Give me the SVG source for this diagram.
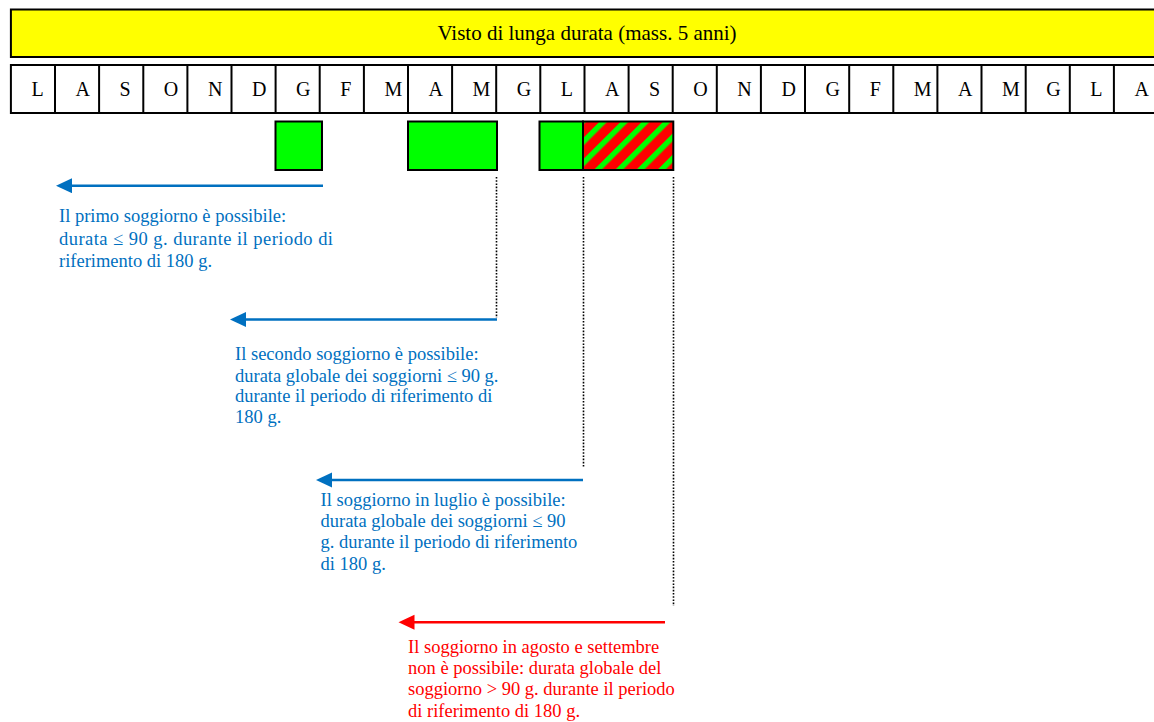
<svg xmlns="http://www.w3.org/2000/svg" width="1154" height="722" viewBox="0 0 1154 722">
<style>
.bx{stroke:#000;stroke-width:2}
.cell{fill:#fff;stroke:#000;stroke-width:2}
.mon{font-family:"Liberation Serif","Times New Roman",serif;font-size:20px;fill:#000}
.ban{font-family:"Liberation Serif","Times New Roman",serif;font-size:21px;fill:#000}
.txt{font-family:"Liberation Serif","Times New Roman",serif;font-size:18.5px}
.blue{fill:#0070C0}
.red{fill:#FF0000}
.dot{stroke:#000;stroke-width:1.6;stroke-dasharray:1.6 1.6;fill:none}
.arB{stroke:#0070C0;stroke-width:2.6;fill:none;marker-end:url(#hB)}
.arR{stroke:#FF0000;stroke-width:2.6;fill:none;marker-end:url(#hR)}
</style>
<defs>
<marker id="hB" markerUnits="userSpaceOnUse" markerWidth="18" markerHeight="16" refX="6" refY="7.5" orient="auto" viewBox="0 0 18 16">
<path d="M0,0 L16,7.5 L0,15 Z" fill="#0070C0"/>
</marker>
<marker id="hR" markerUnits="userSpaceOnUse" markerWidth="18" markerHeight="16" refX="6" refY="7.5" orient="auto" viewBox="0 0 18 16">
<path d="M0,0 L16,7.5 L0,15 Z" fill="#FF0000"/>
</marker>
<pattern id="hatch" patternUnits="userSpaceOnUse" width="15" height="15" patternTransform="rotate(45)">
<rect x="0" y="0" width="15" height="15" fill="#FF0000"/>
<rect x="0" y="0" width="5.5" height="15" fill="#00FF00"/>
</pattern>
</defs>
<rect width="1154" height="722" fill="#fff"/>
<g id="banner">
<rect x="10.9" y="9.5" width="1160" height="47.5" fill="#FFFF00" class="bx"/>
<text x="587" y="40" class="ban" text-anchor="middle">Visto di lunga durata (mass. 5 anni)</text>
</g>
<g id="months">
<rect x="10.9" y="65" width="1147.1" height="48" class="cell"/>
<path d="M55,65V113M99.1,65V113M143.3,65V113M187.4,65V113M231.5,65V113M275.6,65V113M319.7,65V113M363.9,65V113M408,65V113M452.1,65V113M496.2,65V113M540.3,65V113M584.5,65V113M628.6,65V113M672.7,65V113M716.8,65V113M760.9,65V113M805,65V113M849.2,65V113M893.3,65V113M937.4,65V113M981.5,65V113M1025.7,65V113M1069.8,65V113M1113.9,65V113" stroke="#000" stroke-width="2"/>
<text class="mon" y="95.5"><tspan x="31.4">L</tspan><tspan x="75.5">A</tspan><tspan x="119.6">S</tspan><tspan x="163.8">O</tspan><tspan x="207.9">N</tspan><tspan x="252">D</tspan><tspan x="296.1">G</tspan><tspan x="340.2">F</tspan><tspan x="384.4">M</tspan><tspan x="428.5">A</tspan><tspan x="472.6">M</tspan><tspan x="516.7">G</tspan><tspan x="560.8">L</tspan><tspan x="605">A</tspan><tspan x="649.1">S</tspan><tspan x="693.2">O</tspan><tspan x="737.3">N</tspan><tspan x="781.4">D</tspan><tspan x="825.5">G</tspan><tspan x="869.7">F</tspan><tspan x="913.8">M</tspan><tspan x="957.9">A</tspan><tspan x="1002">M</tspan><tspan x="1046.2">G</tspan><tspan x="1090.3">L</tspan><tspan x="1134.4">A</tspan></text>
</g>
<g id="stay1"><rect x="275.5" y="121.5" width="46.5" height="48.5" fill="#00FF00" class="bx"/></g>
<g id="stay2"><rect x="408" y="121.5" width="89" height="48.5" fill="#00FF00" class="bx"/></g>
<g id="stay3"><rect x="539.5" y="121.5" width="43.5" height="48.5" fill="#00FF00" class="bx"/></g>
<g id="stay4"><rect x="583" y="121.5" width="90.3" height="48.5" fill="url(#hatch)" class="bx"/></g>
<g id="connectors">
<path class="dot" d="M496.5,177V318"/>
<path class="dot" d="M583.5,177V468"/>
<path class="dot" d="M673.5,177V606"/>
<path class="arB" d="M323,185.7H66"/>
<path class="arB" d="M497,319.5H240"/>
<path class="arB" d="M583,480H326"/>
<path class="arR" d="M665,622.3H408.5"/>
</g>
<g id="note1" class="txt blue">
<text x="59" y="221.7">Il primo soggiorno è possibile:</text>
<text x="59" y="244.5" textLength="274" lengthAdjust="spacing">durata ≤ 90 g. durante il periodo di</text>
<text x="59" y="266.7">riferimento di 180 g.</text>
</g>
<g id="note2" class="txt blue">
<text x="235" y="360">Il secondo soggiorno è possibile:</text>
<text x="235" y="381.5">durata globale dei soggiorni ≤ 90 g.</text>
<text x="235" y="402">durante il periodo di riferimento di</text>
<text x="235" y="422.7">180 g.</text>
</g>
<g id="note3" class="txt blue">
<text x="320.5" y="506">Il soggiorno in luglio è possibile:</text>
<text x="320.5" y="527">durata globale dei soggiorni ≤ 90</text>
<text x="320.5" y="548.3">g. durante il periodo di riferimento</text>
<text x="320.5" y="569.5">di 180 g.</text>
</g>
<g id="note4" class="txt red">
<text x="408" y="653.3">Il soggiorno in agosto e settembre</text>
<text x="408" y="674.3">non è possibile: durata globale del</text>
<text x="408" y="695.3">soggiorno &gt; 90 g. durante il periodo</text>
<text x="408" y="716.5">di riferimento di 180 g.</text>
</g>
</svg>
